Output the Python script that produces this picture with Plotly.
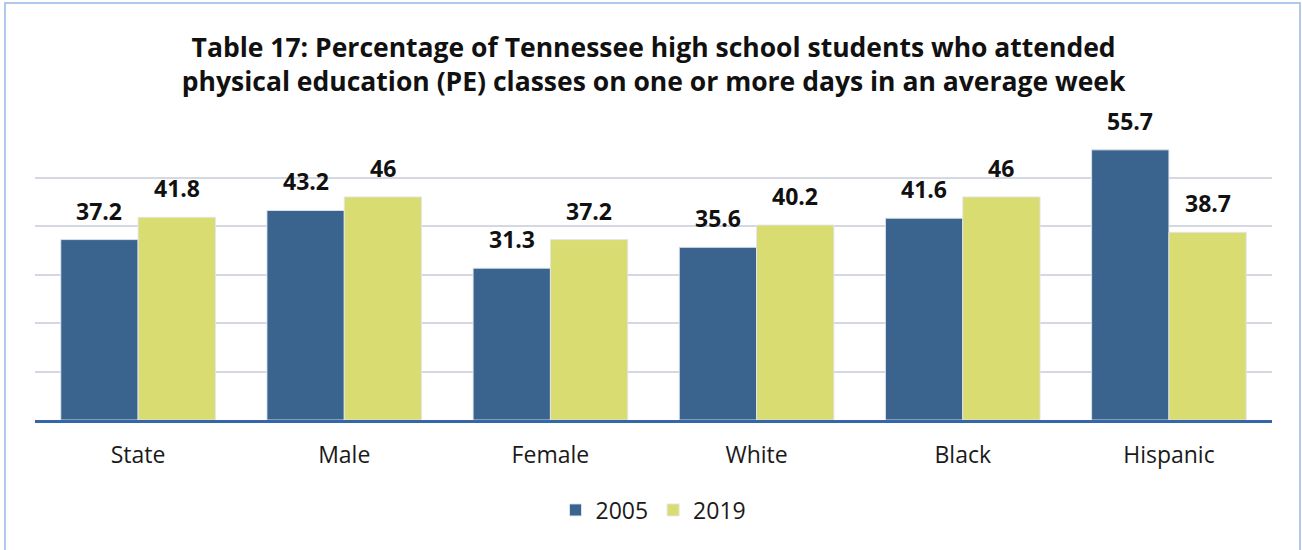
import plotly.graph_objects as go

categories = ["State", "Male", "Female", "White", "Black", "Hispanic"]
values_2005 = [37.2, 43.2, 31.3, 35.6, 41.6, 55.7]
values_2019 = [41.8, 46, 37.2, 40.2, 46, 38.7]
series_names = ["2005", "2019"]
title_text = ("Table 17: Percentage of Tennessee high school students who attended<br>"
              "physical education (PE) classes on one or more days in an average week")

W, H = 1302, 550
L, R, T, B = 35, 30, 129, 130
pw, ph = W - L - R, H - T - B
BARGAP = 0.25
cat_w = pw / len(categories)
bar_w = cat_w * (1 - BARGAP) / 2

fig = go.Figure()
series = [(series_names[0], values_2005, "#3a648e"),
          (series_names[1], values_2019, "#d9dc70")]
for name, vals, col in series:
    fig.add_trace(go.Bar(
        x=categories, y=vals, name=name,
        marker=dict(color=col, line=dict(color="rgba(225,230,240,0.9)", width=1)),
        cliponaxis=False,
    ))

annotations = []
for si, (name, vals, col) in enumerate(series):
    shift = (si - 0.5) * bar_w
    for c, v in zip(categories, vals):
        annotations.append(dict(
            x=c, y=v, xref="x", yref="y", text=f"{v:g}", showarrow=False,
            xanchor="center", yanchor="bottom", xshift=shift, yshift=11,
            font=dict(family="Open Sans", size=23, color="#111111", weight="bold"),
        ))

def px_to_paper_x(px):
    return (px - L) / pw

def px_to_paper_y(py):
    return (H - B - py) / ph

fig.update_layout(
    width=W, height=H,
    margin=dict(l=L, r=R, t=T, b=B),
    paper_bgcolor="white", plot_bgcolor="white",
    barmode="group", bargap=BARGAP, bargroupgap=0,
    font=dict(family="Open Sans", color="#1a1a1a"),
    title=dict(text=title_text, x=0.502, xanchor="center", xref="container",
               y=1 - 57 / H, yanchor="middle", yref="container",
               font=dict(family="Open Sans", size=26.5, color="#111111", weight="bold")),
    xaxis=dict(showgrid=False, showline=True, linecolor="#3566aa", linewidth=3,
               ticks="outside", ticklen=12, tickcolor="rgba(0,0,0,0)",
               tickfont=dict(family="Open Sans", size=23, color="#1a1a1a")),
    yaxis=dict(range=[0, 60], dtick=10, showticklabels=False, showgrid=True,
               gridcolor="#d5d8e0", gridwidth=1.5, zeroline=False, showline=False),
    legend=dict(orientation="h", x=0.5, xanchor="center", y=px_to_paper_y(510), yanchor="middle",
                font=dict(family="Open Sans", size=23, color="#1a1a1a"),
                itemwidth=30, traceorder="normal"),
    showlegend=True,
    annotations=annotations,
    shapes=[dict(type="rect", xref="paper", yref="paper",
                 x0=px_to_paper_x(5), x1=px_to_paper_x(1300),
                 y0=px_to_paper_y(560), y1=px_to_paper_y(3),
                 line=dict(color="#b0c8ea", width=2), fillcolor="rgba(0,0,0,0)", layer="below")],
)

fig.write_html("out.html", config={"displayModeBar": False},
               post_script="document.body.style.margin='0';document.body.style.overflow='hidden';")
